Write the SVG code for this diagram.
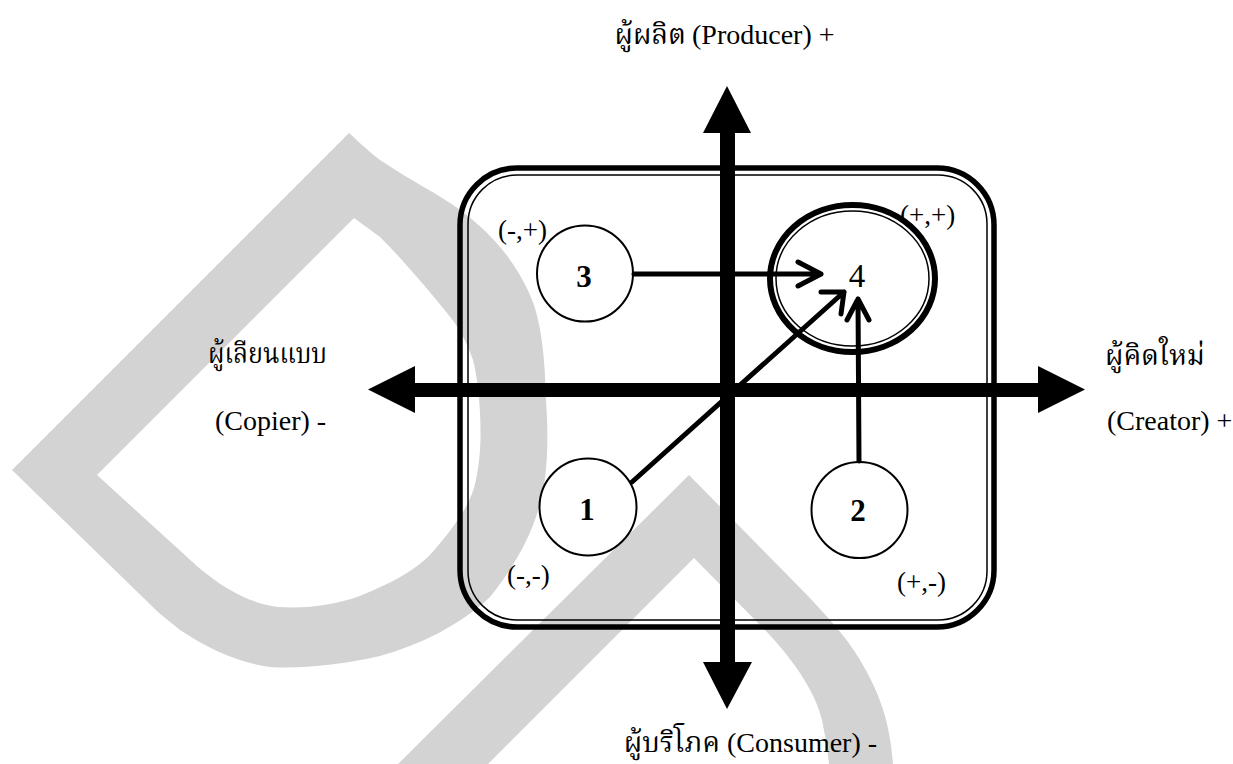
<svg xmlns="http://www.w3.org/2000/svg" width="1233" height="764" viewBox="0 0 1233 764">
<defs>
<style>
.wm{fill:#d3d3d3;fill-rule:evenodd;stroke:none}
.lat{font-family:'Liberation Serif','Noto Serif Thai','Noto Sans Thai','DejaVu Sans',serif;fill:#000}
.ax{font-size:28px}
.q{font-size:27px}
.num{font-size:31px;font-weight:bold;text-anchor:middle}
.node{fill:#fff;stroke:#000;stroke-width:2}
.con{fill:none;stroke:#000;stroke-width:5;stroke-linecap:round;stroke-linejoin:round}
.axis{fill:#000;stroke:none}
</style>
</defs>
<rect width="1233" height="764" fill="#fff"/>
<g id="watermark">
<path class="wm" d="M349,133 C362,145 372,154 380,160 C410,180 440,195 460,210 C490,232 515,260 530,295 C542,322 545,360 546,400 C548,430 548,455 545,478 C540,520 520,560 490,597 C460,625 420,645 380,656 C340,665 300,669 270,667 C240,663 210,650 180,630 L159,613 L12,470 Z M354,218 L97,475 L198,567 C225,590 250,603 278,607 C310,609 335,604 357,597 C395,582 420,568 437,547 C460,520 472,500 476,480 C481,455 481,435 480,413 C479,390 476,372 473,360 C466,340 458,326 447,313 C430,292 405,262 380,237 Z"/>
<path class="wm" d="M689,475 L398,764 L488,764 L694,558 L760,625 C790,655 815,690 822,720 C826,740 828,752 829,764 L893,764 C890,720 878,690 860,660 C845,635 830,620 810,598 Z"/>
</g>
<g id="frame">
<rect x="460" y="168" width="534" height="459" rx="57" ry="57" fill="none" stroke="#000" stroke-width="5.5"/>
<rect x="468" y="175" width="519" height="445" rx="49" ry="49" fill="none" stroke="#000" stroke-width="1.5"/>
</g>
<g id="axes">
<rect class="axis" x="720" y="132" width="15" height="531"/>
<polygon class="axis" points="727,86 751,133 703,133"/>
<polygon class="axis" points="727,709 752,662 703,662"/>
<rect class="axis" x="414" y="383" width="625" height="14"/>
<polygon class="axis" points="368,389.5 415,366 415,413"/>
<polygon class="axis" points="1085,389.5 1038,366 1038,413"/>
</g>
<g id="axis-labels" class="lat ax">
<text x="686" y="44" text-anchor="end">ผู้ผลิต</text>
<text x="692" y="44">(Producer) +</text>
<text x="208" y="363" textLength="119" lengthAdjust="spacingAndGlyphs">ผู้เลียนแบบ</text>
<text x="215" y="430">(Copier) -</text>
<text x="1105" y="365">ผู้คิดใหม่</text>
<text x="1107" y="430">(Creator) +</text>
<text x="720" y="752" text-anchor="end">ผู้บริโภค</text>
<text x="727" y="752">(Consumer) -</text>
</g>
<g id="quadrant-labels" class="lat q">
<text x="498" y="239">(-,+)</text>
<text x="900" y="224">(+,+)</text>
<text x="507" y="584">(-,-)</text>
<text x="897" y="591">(+,-)</text>
</g>
<g id="node-4">
<ellipse cx="852.5" cy="278.5" rx="82.5" ry="73.5" fill="#fff" stroke="#000" stroke-width="6"/>
<ellipse cx="852.5" cy="278.5" rx="76.5" ry="67.5" fill="none" stroke="#000" stroke-width="1.5"/>
<text class="lat" x="857" y="287" font-size="33" text-anchor="middle">4</text>
</g>
<g id="node-3">
<circle class="node" cx="585" cy="273.5" r="48"/>
<text class="lat num" x="584" y="287">3</text>
</g>
<g id="node-1">
<circle class="node" cx="588" cy="507" r="48.5"/>
<text class="lat num" x="587" y="520">1</text>
</g>
<g id="node-2">
<circle class="node" cx="859.5" cy="510" r="48"/>
<text class="lat num" x="858" y="521">2</text>
</g>
<g id="connectors">
<path class="con" d="M634,274 L821,274 M798,262 L821,274 L798,286"/>
<path class="con" d="M632,482 L844,292 M821,292 L844,292 L841,314"/>
<path class="con" d="M859,461 L858,299 M847,320 L858,299 L869,320"/>
</g>
</svg>
